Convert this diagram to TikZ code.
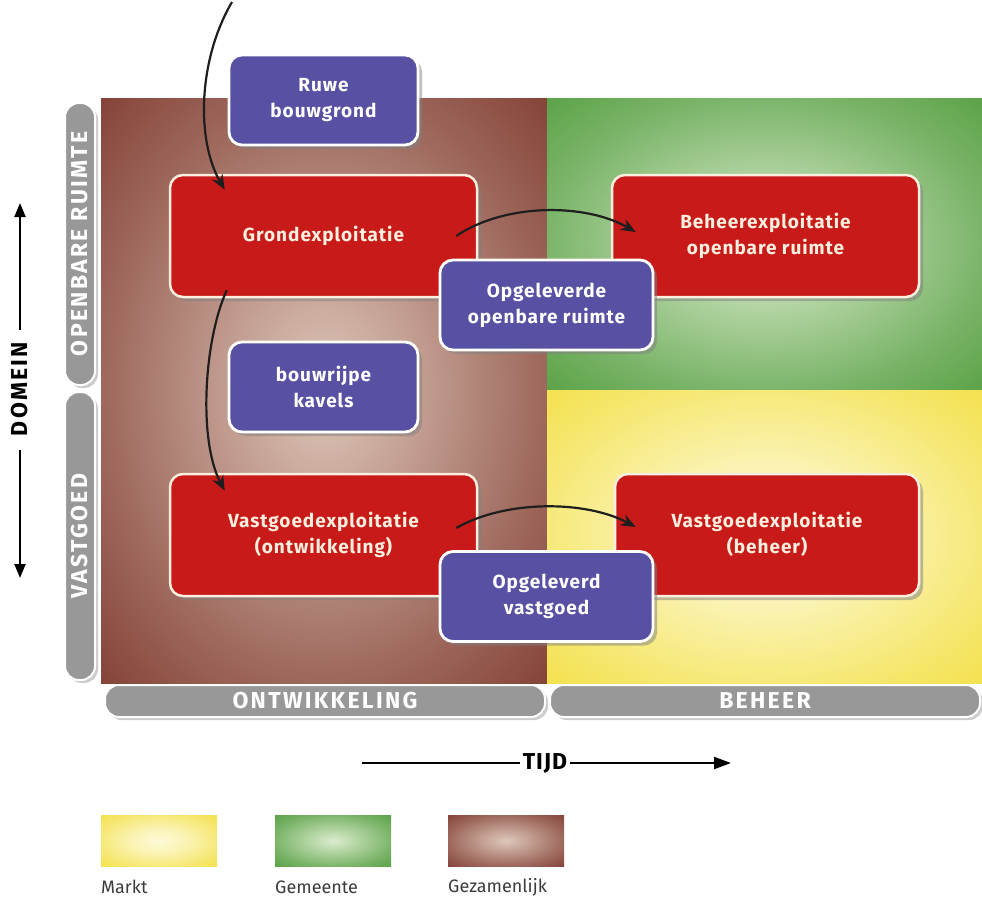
\documentclass[tikz,border=0pt]{standalone}
\usepackage{fontspec}
\setmainfont{Fira Sans}
\newfontfamily\boxfont[LetterSpace=5]{Fira Sans}
\newfontfamily\capsfont[LetterSpace=10]{Fira Sans}
\newfontfamily\tijdfont[LetterSpace=4]{Fira Sans}
\usetikzlibrary{shadows,arrows.meta}
\definecolor{boxred}{RGB}{200,26,24}
\definecolor{boxpurple}{RGB}{88,80,162}
\definecolor{cream}{RGB}{250,238,222}
\definecolor{bargray}{RGB}{152,152,152}
\definecolor{arrowdark}{RGB}{30,30,30}
\definecolor{brownout}{RGB}{118,44,34}
\definecolor{brownin}{RGB}{222,200,186}
\definecolor{greenout}{RGB}{66,148,46}
\definecolor{greenin}{RGB}{220,236,206}
\definecolor{yellowout}{RGB}{240,218,36}
\definecolor{yellowin}{RGB}{253,249,216}
\definecolor{labelgray}{RGB}{60,60,60}
\pgfdeclareradialshading{brownsh}{\pgfpoint{0bp}{0bp}}{color(0bp)=(brownin); color(10bp)=(brownin!75!brownout); color(24bp)=(brownin!40!brownout); color(42bp)=(brownout); color(75bp)=(brownout)}
\pgfdeclareradialshading{greensh}{\pgfpoint{0bp}{0bp}}{color(0bp)=(greenin); color(10bp)=(greenin!75!greenout); color(26bp)=(greenin!35!greenout); color(44bp)=(greenout); color(75bp)=(greenout)}
\pgfdeclareradialshading{yellowsh}{\pgfpoint{0bp}{0bp}}{color(0bp)=(yellowin); color(12bp)=(yellowin!80!yellowout); color(28bp)=(yellowin!40!yellowout); color(46bp)=(yellowout); color(75bp)=(yellowout)}
\tikzset{
  redbox/.style={draw=cream, line width=2.5pt, fill=boxred, rounded corners=13pt,
    minimum width=307pt, minimum height=122pt, text=cream, align=center,
    font=\boxfont\bfseries\fontsize{19}{26}\selectfont,
    drop shadow={shadow xshift=4pt, shadow yshift=-4pt, opacity=0.5}},
  purplebox/.style={draw=white, line width=2.8pt, fill=boxpurple, rounded corners=13pt,
    minimum height=90pt, text=white, align=center,
    font=\boxfont\bfseries\fontsize{19}{26}\selectfont,
    drop shadow={shadow xshift=4pt, shadow yshift=-4pt, opacity=0.5}},
  graybar/.style={draw=white, line width=2pt, fill=bargray, rounded corners=14pt,
    text=white, font=\capsfont\bfseries\fontsize{23}{24}\selectfont,
    drop shadow={shadow xshift=3pt, shadow yshift=-3pt, opacity=0.4}},
  flow/.style={draw=arrowdark, line width=2.2pt, -{Stealth[length=15pt,width=12pt]}},
  axis/.style={draw=black, line width=2.2pt},
  legendbox/.style={minimum width=116pt, minimum height=51pt, inner sep=0pt},
  legendlabel/.style={anchor=west, text=labelgray, inner sep=0pt, font=\fontsize{18}{20}\selectfont},
}
\newcommand{\twolines}[2]{\raisebox{5pt}{\begin{tabular}{@{}c@{}}#1\\#2\end{tabular}}}
\begin{document}
\begin{tikzpicture}[x=1pt,y=-1pt]
\useasboundingbox (0,0) rectangle (982,899);
\fill[white] (0,0) rectangle (982,899);
% background regions
\shade[shading=brownsh] (101,98) rectangle (547,683);
\shade[shading=greensh] (547,98) rectangle (982,390);
\shade[shading=yellowsh] (547,390) rectangle (982,683);
% gray bars
\node[graybar, rotate=90, minimum width=282pt, minimum height=30pt] (openbaar) at (80,244) {OPENBARE RUIMTE};
\node[graybar, rotate=90, minimum width=288pt, minimum height=30pt] (vastgoedbar) at (80,536) {VASTGOED};
\node[graybar, minimum width=440pt, minimum height=32pt] (ontw) at (325,701) {ONTWIKKELING};
\node[graybar, minimum width=430pt, minimum height=32pt] (beheerbar) at (765,701) {BEHEER};
% red boxes
\node[redbox] (grond) at (323.5,236) {Grondexploitatie};
\node[redbox] (beheer) at (765.5,236) {\twolines{Beheerexploitatie}{openbare ruimte}};
\node[redbox] (vont) at (323.5,535) {\twolines{Vastgoedexploitatie}{(ontwikkeling)}};
\node[redbox, minimum width=304pt] (vbeh) at (767,535) {\twolines{Vastgoedexploitatie}{(beheer)}};
% purple boxes
\node[purplebox, minimum width=189pt] (ruwe) at (323.5,100) {Ruwe\\bouwgrond};
\node[purplebox, minimum width=189pt] (kavels) at (323.5,387) {bouwrijpe\\kavels};
\node[purplebox, minimum width=213pt] (oor) at (546.5,305) {Opgeleverde\\openbare ruimte};
\node[purplebox, minimum width=213pt] (ovg) at (546.5,596.5) {Opgeleverd\\vastgoed};
% flow arrows
\coordinate (start) at (232,2);
\draw[flow] (start) .. controls (198,60) and (196,140) .. ([xshift=56pt,yshift=-16pt]grond.north west);
\draw[flow] ([xshift=58pt,yshift=8pt]grond.south west) .. controls (204,340) and (198,440) .. ([xshift=56pt,yshift=-18pt]vont.north west);
\draw[flow] ([xshift=-22pt]grond.east) .. controls (505,203) and (585,203) .. ([xshift=25pt,yshift=4pt]beheer.west);
\draw[flow] ([xshift=-22pt,yshift=7pt]vont.east) .. controls (505,500) and (585,500) .. ([xshift=22pt,yshift=8pt]vbeh.west);
% DOMEIN axis
\node[font=\capsfont\bfseries\fontsize{23}{24}\selectfont, rotate=90] (domein) at (20,389) {DOMEIN};
\coordinate (dup) at (20,330);
\coordinate (dtop) at (20,203);
\coordinate (dlow) at (20,450);
\coordinate (dbot) at (20,578);
\draw[axis, -{Triangle[length=14pt,width=11pt]}] (dup) -- (dtop);
\draw[axis, -{Triangle[length=14pt,width=11pt]}] (dlow) -- (dbot);
% TIJD axis
\node[font=\tijdfont\bfseries\fontsize{23}{24}\selectfont, inner sep=3pt] (tijd) at (545,763) {TIJD};
\coordinate (tleft) at (362,763);
\coordinate (tright) at (731,763);
\draw[axis] (tleft) -- (tijd.west);
\draw[axis, -{Triangle[length=17pt,width=12pt]}] (tijd.east) -- (tright);
% legend
\node[legendbox, shading=yellowsh] (lmarkt) at (159,840.5) {};
\node[legendbox, shading=greensh] (lgem) at (333,840.5) {};
\node[legendbox, shading=brownsh] (lgez) at (506,840.5) {};
\node[legendlabel] (tmarkt) at (101,887) {Markt};
\node[legendlabel] (tgem) at (275,887) {Gemeente};
\node[legendlabel] (tgez) at (448,887) {Gezamenlijk};
\end{tikzpicture}
\end{document}
